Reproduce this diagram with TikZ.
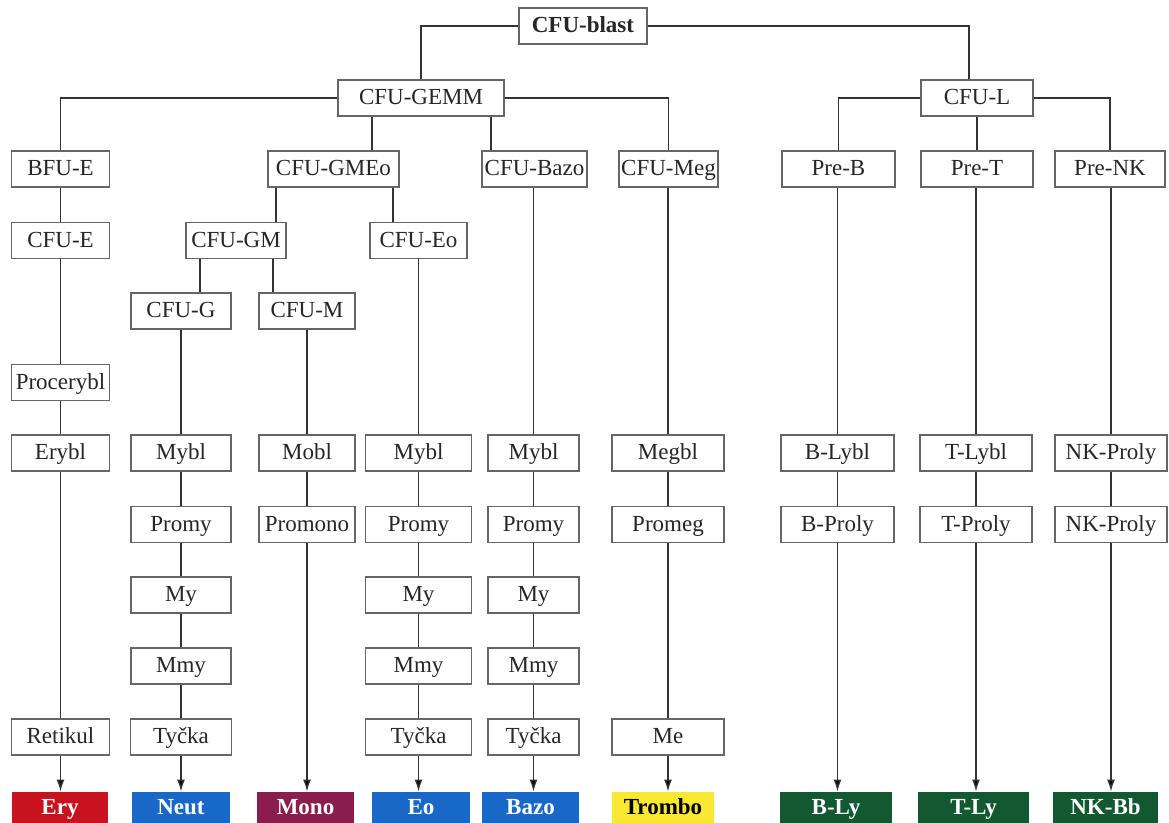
\documentclass[tikz,border=0pt]{standalone}
\usepackage{fontspec}
\setmainfont{Liberation Serif}
\usetikzlibrary{arrows.meta}
\definecolor{eryred}{RGB}{200,18,30}
\definecolor{neutblue}{RGB}{24,104,200}
\definecolor{monored}{RGB}{138,28,78}
\definecolor{tromboyellow}{RGB}{248,232,50}
\definecolor{lygreen}{RGB}{18,88,48}
\begin{document}
\begin{tikzpicture}[x=0.5pt,y=-0.5pt]
\tikzstyle{cell}=[draw=black!60,line width=0.55pt,fill=white,minimum width=49pt,minimum height=18pt,inner sep=1pt,text height=8.6pt,text depth=1.6pt,text=black!85,font=\fontsize{11.5}{13}\selectfont]
\tikzstyle{fate}=[minimum width=49pt,minimum height=16pt,inner sep=1pt,text height=8.6pt,text depth=1.6pt,text=white,font=\fontsize{11.5}{13}\selectfont\bfseries]
\tikzstyle{link}=[draw=black!80,line width=0.7pt]
\tikzstyle{arr}=[link,-{Latex[length=6pt,width=4pt]}]
\useasboundingbox (0,0) rectangle (1169,823);
% stem cells
\node[cell,minimum width=64pt,font=\fontsize{11.5}{13}\selectfont\bfseries] (blast) at (583,26) {CFU-blast};
\node[cell,minimum width=83pt] (gemm) at (421,98) {CFU-GEMM};
\node[cell,minimum width=56pt] (cfuL) at (977,98) {CFU-L};
\node[cell] (bfue) at (60.5,169) {BFU-E};
\node[cell,minimum width=65.5pt] (gmeo) at (333.5,169) {CFU-GMEo};
\node[cell,minimum width=52.5pt] (cbazo) at (534.5,169) {CFU-Bazo};
\node[cell,minimum width=49.5pt] (cmeg) at (668.5,169) {CFU-Meg};
\node[cell,minimum width=56.5pt] (preB) at (838.5,169) {Pre-B};
\node[cell,minimum width=56pt] (preT) at (977,169) {Pre-T};
\node[cell,minimum width=55pt] (preNK) at (1110,169) {Pre-NK};
\node[cell] (cfue) at (60.5,240.5) {CFU-E};
\node[cell,minimum width=50pt] (cgm) at (236,240.5) {CFU-GM};
\node[cell,minimum width=48.5pt] (ceo) at (418.5,240.5) {CFU-Eo};
\node[cell,minimum width=50pt] (cg) at (181,311) {CFU-G};
\node[cell,minimum width=48pt] (cm) at (307,311) {CFU-M};
% blasts
\node[cell] (procer) at (60.5,382.5) {Procerybl};
\node[cell] (erybl) at (60.5,453) {Erybl};
\node[cell,minimum width=50pt] (myblN) at (181,453) {Mybl};
\node[cell,minimum width=48pt] (mobl) at (307,453) {Mobl};
\node[cell,minimum width=53pt] (myblE) at (418.5,453) {Mybl};
\node[cell,minimum width=45.5pt] (myblB) at (533.5,453) {Mybl};
\node[cell,minimum width=56pt] (megbl) at (668,453) {Megbl};
\node[cell,minimum width=56.5pt] (blybl) at (837.5,453) {B-Lybl};
\node[cell,minimum width=56pt] (tlybl) at (976,453) {T-Lybl};
\node[cell,minimum width=56pt] (nkly) at (1111,453) {NK-Proly};
\node[cell,minimum width=50pt] (promyN) at (181,524.5) {Promy};
\node[cell,minimum width=48pt] (promono) at (307,524.5) {Promono};
\node[cell,minimum width=53pt] (promyE) at (418.5,524.5) {Promy};
\node[cell,minimum width=45.5pt] (promyB) at (533.5,524.5) {Promy};
\node[cell,minimum width=56pt] (promeg) at (668,524.5) {Promeg};
\node[cell,minimum width=56.5pt] (bproly) at (837.5,524.5) {B-Proly};
\node[cell,minimum width=56pt] (tproly) at (976,524.5) {T-Proly};
\node[cell,minimum width=56pt] (nkproly) at (1111,524.5) {NK-Proly};
\node[cell,minimum width=50pt] (myN) at (181,595) {My};
\node[cell,minimum width=53pt] (myE) at (418.5,595) {My};
\node[cell,minimum width=45.5pt] (myB) at (533.5,595) {My};
\node[cell,minimum width=50pt] (mmyN) at (181,666) {Mmy};
\node[cell,minimum width=53pt] (mmyE) at (418.5,666) {Mmy};
\node[cell,minimum width=45.5pt] (mmyB) at (533.5,666) {Mmy};
\node[cell] (retikul) at (60.5,737) {Retikul};
\node[cell,minimum width=50.5pt] (tyN) at (181,737) {Tyčka};
\node[cell,minimum width=53pt] (tyE) at (418.5,737) {Tyčka};
\node[cell,minimum width=45.5pt] (tyB) at (533.5,737) {Tyčka};
\node[cell,minimum width=56pt] (me) at (668,737) {Me};
% mature cells
\node[fate,fill=eryred,minimum width=48pt] (ery) at (60,808) {Ery};
\node[fate,fill=neutblue] (neut) at (181,808) {Neut};
\node[fate,fill=monored,minimum width=48.5pt] (mono) at (305.5,808) {Mono};
\node[fate,fill=neutblue] (eo) at (421,808) {Eo};
\node[fate,fill=neutblue,minimum width=48.5pt] (bazo) at (530.5,808) {Bazo};
\node[fate,fill=tromboyellow,text=black,minimum width=51pt] (trombo) at (663,808) {Trombo};
\node[fate,fill=lygreen,minimum width=56pt] (bly) at (836,808) {B-Ly};
\node[fate,fill=lygreen,minimum width=55.5pt] (tly) at (973.5,808) {T-Ly};
\node[fate,fill=lygreen,minimum width=52.5pt] (nkbb) at (1105.5,808) {NK-Bb};
% branching
\draw[link] (blast.west) -| (gemm.north);
\draw[link] (blast.east) -| ([xshift=-4pt]cfuL.north);
\draw[link] (gemm.west) -| (bfue.north);
\draw[link] (gemm.east) -| (cmeg.north);
\draw[link] ([xshift=-24.5pt]gemm.south) -- ([xshift=-24.5pt]gemm.south |- gmeo.north);
\draw[link] ([xshift=35pt]gemm.south) -- ([xshift=35pt]gemm.south |- cbazo.north);
\draw[link] (cfuL.west) -| (preB.north);
\draw[link] (cfuL.east) -| (preNK.north);
\draw[link] ([xshift=-28.75pt]gmeo.south) -- ([xshift=-28.75pt]gmeo.south |- cgm.north);
\draw[link] ([xshift=29.75pt]gmeo.south) -- ([xshift=29.75pt]gmeo.south |- ceo.north);
\draw[link] ([xshift=-18pt]cgm.south) -- ([xshift=-18pt]cgm.south |- cg.north);
\draw[link] ([xshift=18.5pt]cgm.south) -- ([xshift=18.5pt]cgm.south |- cm.north);
% lines of maturation
\path[]
    (cfuL) [link] edge (preT)
    (bfue) [link] edge (cfue)
    (cfue) [link] edge (procer)
    (procer) [link] edge (erybl)
    (erybl) [link] edge (retikul)
    (cg) [link] edge (myblN)
    (myblN) [link] edge (promyN)
    (promyN) [link] edge (myN)
    (myN) [link] edge (mmyN)
    (mmyN) [link] edge (tyN)
    (cm) [link] edge (mobl)
    (mobl) [link] edge (promono)
    (ceo) [link] edge (myblE)
    (myblE) [link] edge (promyE)
    (promyE) [link] edge (myE)
    (myE) [link] edge (mmyE)
    (mmyE) [link] edge (tyE)
    (cbazo.south -| myblB) [link] edge (myblB)
    (myblB) [link] edge (promyB)
    (promyB) [link] edge (myB)
    (myB) [link] edge (mmyB)
    (mmyB) [link] edge (tyB)
    (cmeg.south -| megbl) [link] edge (megbl)
    (megbl) [link] edge (promeg)
    (promeg) [link] edge (me)
    (preB.south -| blybl) [link] edge (blybl)
    (blybl) [link] edge (bproly)
    (preT.south -| tlybl) [link] edge (tlybl)
    (tlybl) [link] edge (tproly)
    (preNK.south -| nkly) [link] edge (nkly)
    (nkly) [link] edge (nkproly);
\path[]
    (retikul) [arr] edge (retikul |- ery.north)
    (tyN) [arr] edge (tyN |- neut.north)
    (promono) [arr] edge (promono |- mono.north)
    (tyE) [arr] edge (tyE |- eo.north)
    (tyB) [arr] edge (tyB |- bazo.north)
    (me) [arr] edge (me |- trombo.north)
    (bproly) [arr] edge (bproly |- bly.north)
    (tproly) [arr] edge (tproly |- tly.north)
    (nkproly) [arr] edge (nkproly |- nkbb.north);
\end{tikzpicture}
\end{document}
